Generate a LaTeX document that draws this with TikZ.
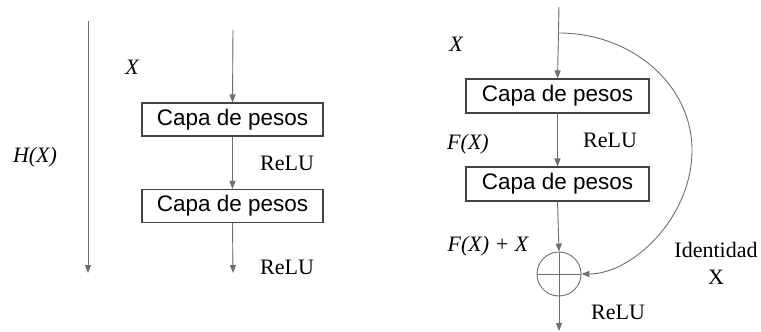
\documentclass[tikz,border=0pt]{standalone}
\usepackage{fontspec}
\setmainfont{Liberation Serif}
\setsansfont{Liberation Sans}
\usetikzlibrary{arrows.meta}
\definecolor{linegray}{HTML}{6E6E6E}
\definecolor{boxgray}{HTML}{444444}
\begin{document}
\begin{tikzpicture}[x=1pt,y=1pt,
  flow/.style={draw=linegray, line width=0.9pt, -{Triangle[length=8pt,width=6pt]}, fill=linegray},
  plain/.style={draw=linegray, line width=0.9pt},
  layer/.style={draw=boxgray, line width=1.1pt, minimum width=181pt, minimum height=33pt,
                inner sep=0pt, font=\sffamily\fontsize{22.5}{25}\selectfont},
  lbl/.style={font=\fontsize{22}{27}\selectfont, inner sep=0pt, text=black},
  mathlbl/.style={font=\itshape\fontsize{22}{27}\selectfont, inner sep=0pt, text=black},
  adder/.style={circle, draw=linegray, line width=0.9pt, minimum size=44pt, inner sep=0pt}
]
\useasboundingbox (0,0) rectangle (761,-332);

% plain two-layer block
\coordinate (hTop) at (88,-21);
\coordinate (hBot) at (88,-273);
\draw[flow] (hTop) -- (hBot);
\node[mathlbl] (hx) at (35,-157) {H(X)};
\node[mathlbl] (xa) at (132,-67) {X};

\coordinate (inA) at (233,-30);
\node[layer] (a1) at (232.5,-119.5) {Capa de pesos};
\node[layer] (a2) at (232.5,-206) {Capa de pesos};
\coordinate (outA) at (233,-273);
\draw[flow] (inA) -- (a1.north);
\draw[flow] (a1.south) -- (a2.north);
\draw[flow] (a2.south) -- (outA);
\node[lbl] (ra1) at (287,-163) {ReLU};
\node[lbl] (ra2) at (287,-267) {ReLU};

% residual block
\coordinate (inB) at (559,-7);
\coordinate (split) at (559,-33);
\node[layer, minimum width=183pt, minimum height=34pt] (b1) at (557.5,-96) {Capa de pesos};
\node[layer, minimum width=183pt, minimum height=34pt] (b2) at (557.5,-184) {Capa de pesos};
\node[adder] (sum) at (559,-274) {};
\draw[plain] (sum.north) -- (sum.south);
\draw[plain] (sum.west) -- (sum.east);
\coordinate (outB) at (559,-331);

\draw[flow] (inB) -- (b1.north);
\draw[flow] (b1.south) -- (b2.north);
\draw[flow] (b2.south) -- (sum.north);
\draw[flow] (sum.south) -- (outB);
\draw[plain, -{Triangle[length=8pt,width=6pt]}, fill=none]
  (split) .. controls (632,-33) and (692,-85) .. (692,-150)
          .. controls (692,-218) and (632,-274) .. (sum.east);

\node[mathlbl] (xb) at (456,-44) {X};
\node[mathlbl] (fx) at (468,-144) {F(X)};
\node[lbl] (rb1) at (610,-140) {ReLU};
\node[mathlbl] (fxx) at (488,-246) {F(X) + X};
\node[lbl, align=center] (ident) at (716,-263) {Identidad\\X};
\node[lbl] (rb2) at (618,-312) {ReLU};
\end{tikzpicture}
\end{document}
